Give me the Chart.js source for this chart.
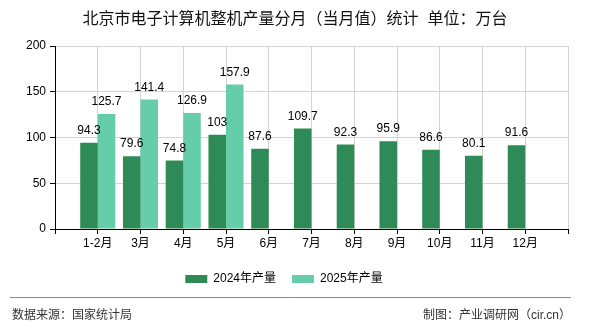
<!DOCTYPE html>
<html>
<head>
<meta charset="utf-8">
<script src="https://cdn.jsdelivr.net/npm/chart.js@4.4.1/dist/chart.umd.min.js"></script>
<style>
    html, body { margin: 0; padding: 0; background: #fff; }
    #contenedor { width: 590px; height: 330px; }
</style>
</head>
<body>
<div id="contenedor"><canvas id="grafico" width="590" height="330"></canvas></div>
<script>
// datos
const meses = ["1-2月", "3月", "4月", "5月", "6月", "7月", "8月", "9月", "10月", "11月", "12月"];
const produccion2024 = [94.3, 79.6, 74.8, 103, 87.6, 109.7, 92.3, 95.9, 86.6, 80.1, 91.6];
const produccion2025 = [125.7, 141.4, 126.9, 157.9];
const ticksY = [0, 50, 100, 150, 200];

const titulo = "北京市电子计算机整机产量分月（当月值）统计  单位：万台";
const fuente = "数据来源：国家统计局";
const autor = "制图：产业调研网（cir.cn）";

const FUENTE = "'Liberation Sans', 'Noto Sans CJK SC', sans-serif";

// el eje tiene un hueco vacio al inicio y al final
const etiquetas = ["", ...meses, ""];
const rellenar = arr => [null, ...meses.map((m, i) => arr[i] ?? null), null];

// etiquetas de valor encima de cada barra
const pluginValores = {
    id: "valores",
    afterDatasetsDraw(chart) {
        const ctx = chart.ctx;
        ctx.save();
        ctx.font = "12px " + FUENTE;
        ctx.fillStyle = "#000";
        ctx.textAlign = "center";
        ctx.textBaseline = "alphabetic";
        chart.data.datasets.forEach((ds, i) => {
            const meta = chart.getDatasetMeta(i);
            meta.data.forEach((el, j) => {
                const v = ds.data[j];
                if (v === null || v === undefined) return;
                ctx.fillText(String(v), el.x, el.y - 9);
            });
        });
        ctx.restore();
    }
};

// titulo y pie de pagina
const pluginMarco = {
    id: "marco",
    afterDraw(chart) {
        const ctx = chart.ctx;
        ctx.save();
        ctx.fillStyle = "#111";
        ctx.font = "16px " + FUENTE;
        ctx.textAlign = "center";
        ctx.textBaseline = "middle";
        ctx.fillText(titulo, 295, 20);

        ctx.strokeStyle = "#888";
        ctx.lineWidth = 1;
        ctx.beginPath();
        ctx.moveTo(10, 297.5);
        ctx.lineTo(571, 297.5);
        ctx.stroke();

        ctx.fillStyle = "#333";
        ctx.font = "12px " + FUENTE;
        ctx.textAlign = "left";
        ctx.fillText(fuente, 12, 316);
        ctx.textAlign = "right";
        ctx.fillText(autor, 571, 316);
        ctx.restore();
    }
};

new Chart(document.getElementById("grafico"), {
    type: "bar",
    data: {
        labels: etiquetas,
        datasets: [
            {
                label: "2024年产量",
                data: rellenar(produccion2024),
                backgroundColor: "#2e8b57",
                borderWidth: 0
            },
            {
                label: "2025年产量",
                data: rellenar(produccion2025),
                backgroundColor: "#66cdaa",
                borderWidth: 0
            }
        ]
    },
    options: {
        responsive: false,
        animation: false,
        layout: { padding: { left: 0, right: 22, top: 46, bottom: 35 } },
        datasets: { bar: { categoryPercentage: 0.82, barPercentage: 1 } },
        scales: {
            x: {
                offset: false,
                grid: { offset: false, color: "#d3d3d3", tickColor: "#000", tickLength: 5 },
                border: { color: "#000" },
                ticks: { color: "#000", font: { size: 12, family: FUENTE }, padding: 2, maxRotation: 0, autoSkip: false },
                afterFit: s => { s.height = 28; }
            },
            y: {
                min: 0,
                max: 200,
                afterBuildTicks: s => { s.ticks = ticksY.map(v => ({ value: v })); },
                grid: { color: "#d3d3d3", tickColor: "#000", tickLength: 5 },
                border: { color: "#000" },
                ticks: { color: "#000", font: { size: 12, family: FUENTE }, padding: 4 },
                afterFit: s => { s.width = 55; }
            }
        },
        plugins: {
            legend: {
                position: "bottom",
                labels: {
                    boxWidth: 22,
                    boxHeight: 8,
                    padding: 16,
                    color: "#000",
                    font: { size: 12, family: FUENTE }
                }
            },
            tooltip: { enabled: false }
        }
    },
    plugins: [pluginValores, pluginMarco]
});
</script>
</body>
</html>
